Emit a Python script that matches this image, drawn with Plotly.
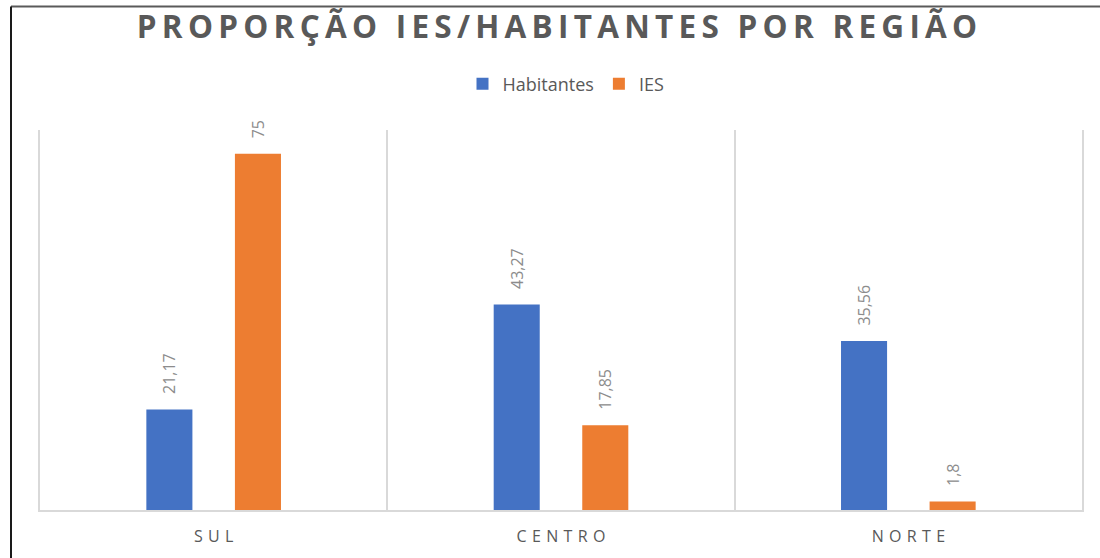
import plotly.graph_objects as go

categories = ["SUL", "CENTRO", "NORTE"]
habitantes = [21.17, 43.27, 35.56]
ies = [75, 17.85, 1.8]
series_names = ["Habitantes", "IES"]
title_text = "PROPORÇÃO IES/HABITANTES POR REGIÃO"

BLUE = "#4472C4"
ORANGE = "#ED7D31"
GRID = "#D9D9D9"
TXT = "#595959"
LBL = "#8C8C8C"


def fmt(v):
    return "\u00a0\u00a0\u00a0" + (f"{v:g}").replace(".", ",")


def spaced(s, sep):
    return sep.join(list(s))


fig = go.Figure()
for name, vals, col in [(series_names[0], habitantes, BLUE), (series_names[1], ies, ORANGE)]:
    fig.add_trace(go.Bar(
        x=categories, y=vals, name=name,
        marker=dict(color=col, line=dict(width=0)),
        text=[fmt(v) for v in vals],
        textposition="outside", textangle=-90,
        textfont=dict(family="Open Sans", size=16, color=LBL),
        cliponaxis=False, constraintext="none",
    ))

# plot area geometry in page pixels
W, H = 1100, 558
L, T = 40, 130
R = W - 1082
B = H - 510
pw, ph = W - L - R, H - T - B


def px_x(x):
    return (x - L) / pw


def px_y(y):
    return (H - B - y) / ph


fig.update_layout(
    width=W, height=H,
    margin=dict(l=L, r=R, t=T, b=B),
    paper_bgcolor="white", plot_bgcolor="white",
    barmode="group", bargap=0.49, bargroupgap=0.48,
    title=dict(text=spaced(title_text, "\u2006"), x=px_x(557), xref="paper", xanchor="center",
               y=1 - 27 / H, yref="container", yanchor="middle",
               font=dict(family="Open Sans", size=31.5, color=TXT, weight="bold")),
    legend=dict(orientation="h", x=px_x(566), xanchor="center", y=px_y(84), yanchor="middle",
                font=dict(family="Open Sans", size=18, color=TXT),
                itemsizing="constant", traceorder="normal", itemwidth=30),
    xaxis=dict(tickmode="array", tickvals=categories,
               ticktext=[spaced(c, "\u2004") for c in categories],
               tickson="boundaries", showgrid=True, gridcolor=GRID, gridwidth=2,
               ticks="", showline=True, linecolor=GRID, linewidth=2,
               tickfont=dict(family="Open Sans", size=16, color=TXT),
               ticklabelstandoff=11, range=[-0.5, 2.5]),
    yaxis=dict(range=[0, 80], showgrid=False, zeroline=False, showticklabels=False,
               ticks="", showline=True, mirror=True, linecolor=GRID, linewidth=2),
    separators=",.",
    shapes=[
        dict(type="line", xref="paper", yref="paper", x0=px_x(11), x1=px_x(1100),
             y0=px_y(6.5), y1=px_y(6.5), line=dict(color="#5A5A5A", width=2)),
        dict(type="line", xref="paper", yref="paper", x0=px_x(11), x1=px_x(11),
             y0=px_y(6.5), y1=px_y(558), line=dict(color="#1A1A1A", width=2)),
    ],
)

fig.write_html("out.html", config={"displayModeBar": False},
               post_script="document.body.style.margin='0';")
